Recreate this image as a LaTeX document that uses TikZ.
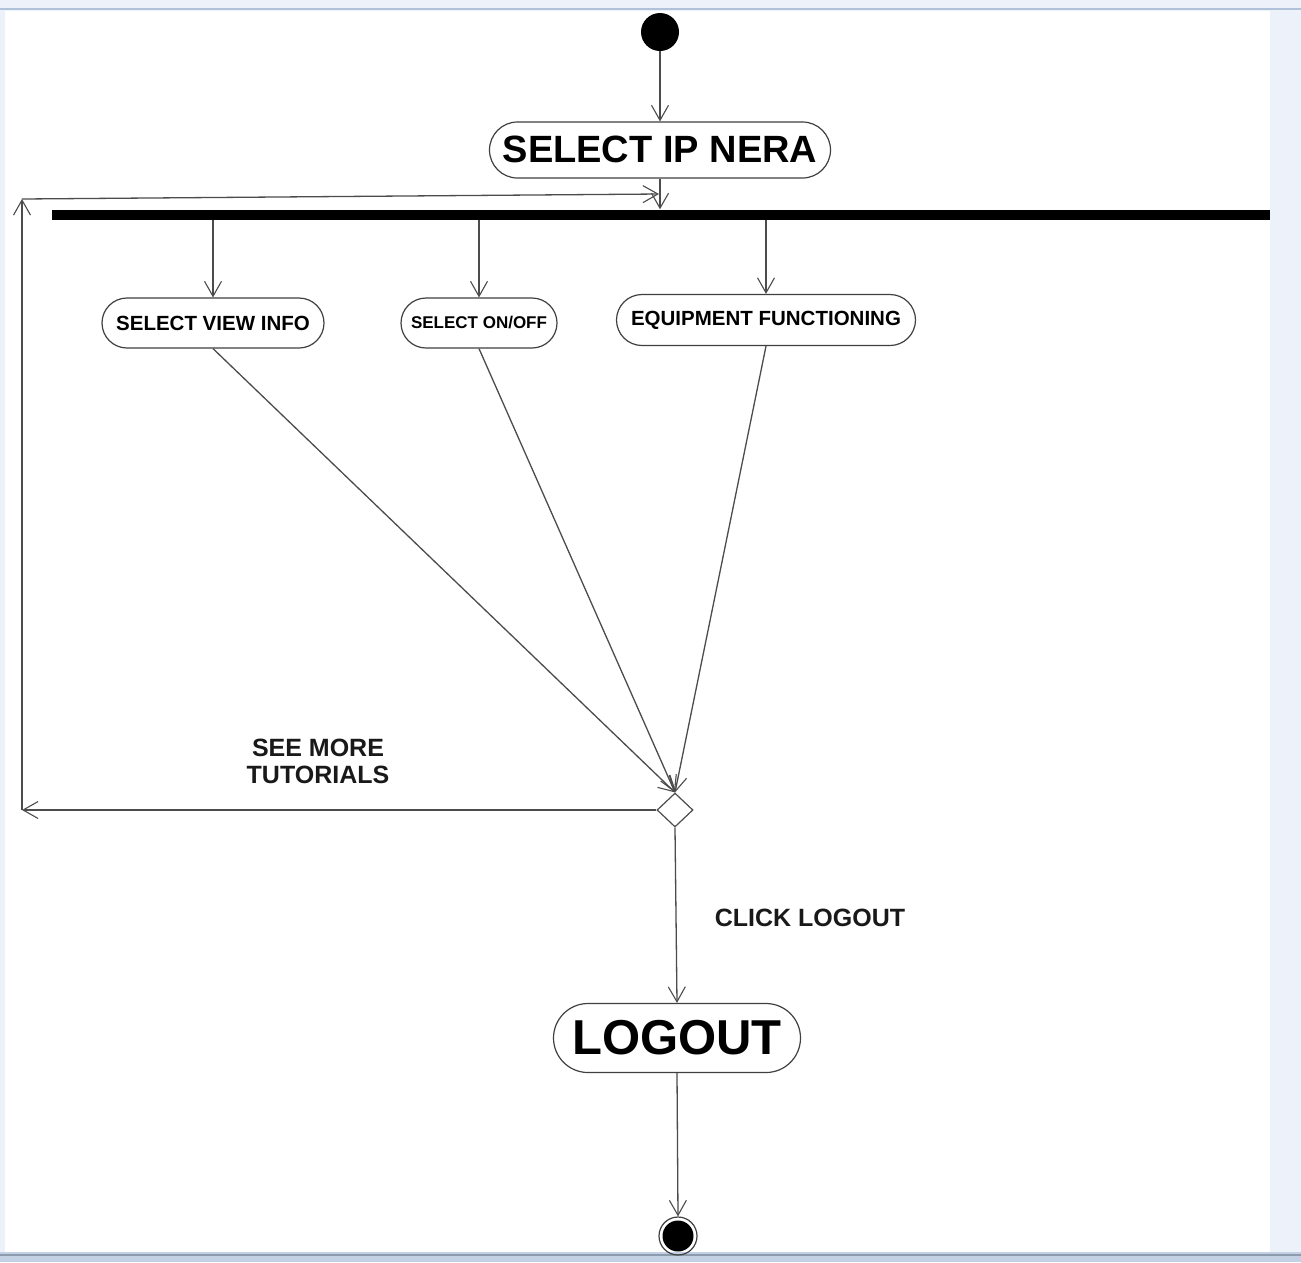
\documentclass[tikz,border=0pt]{standalone}
\usepackage{fontspec}
\setmainfont{Liberation Sans}
\usetikzlibrary{arrows.meta,shapes.geometric}
\definecolor{framebg}{RGB}{236,241,250}
\definecolor{frameline}{RGB}{176,194,218}
\definecolor{framebot}{RGB}{196,208,228}
\begin{document}
\begin{tikzpicture}[x=1pt,y=-1pt,
  line/.style={draw=black!70, line width=1.3pt},
  arr/.style={line, -{Straight Barb[length=15pt,width=17pt,line width=1.1pt]}},
  act/.style={draw=black!75, line width=1.2pt, fill=white, rounded corners=#1,
    inner sep=0pt},
  lbl/.style={font=\bfseries\fontsize{25}{27}\selectfont, text=black!90, align=center}
]
% window frame
\useasboundingbox (0,0) rectangle (1301,1262);
\fill[framebg] (0,0) rectangle (1301,1262);
\fill[white] (5,11) rectangle (1270,1252);
\draw[frameline, line width=2pt] (0,9) -- (1301,9);
\fill[framebot] (0,1252) rectangle (1301,1262);
\draw[frameline!80!black, line width=1.5pt] (0,1255) -- (1301,1255);

% initial node and first activity
\node[circle, fill=black, minimum width=38pt, minimum height=36pt, inner sep=0pt] (start) at (660,32) {};
\node[act=28pt, minimum width=341pt, minimum height=56pt,
  font=\bfseries\fontsize{38}{40}\selectfont] (ip) at (660,150) {\raisebox{2pt}{SELECT IP NERA}};

% fork bar
\node[fill=black, minimum width=1218pt, minimum height=10pt, inner sep=0pt] (bar) at (661,214.5) {};

% parallel activities
\node[act=25pt, minimum width=222pt, minimum height=50pt,
  font=\bfseries\fontsize{20.5}{22}\selectfont] (view) at (213,323) {SELECT VIEW INFO};
\node[act=25pt, minimum width=156pt, minimum height=50pt,
  font=\bfseries\fontsize{17}{19}\selectfont] (onoff) at (479,323) {SELECT ON/OFF};
\node[act=25.5pt, minimum width=299pt, minimum height=51pt,
  font=\bfseries\fontsize{20.5}{22}\selectfont] (equip) at (766,320) {EQUIPMENT FUNCTIONING};

% decision
\node[diamond, draw=black!70, line width=1.2pt, fill=white, minimum width=36pt,
  minimum height=34pt, inner sep=0pt] (dec) at (675,810) {};

% logout and final node
\node[act=34.5pt, minimum width=247pt, minimum height=69pt,
  font=\bfseries\fontsize{49}{52}\selectfont] (logout) at (677,1038) {\raisebox{2pt}{LOGOUT}};
\node[circle, draw=black!75, line width=1.2pt, minimum size=38pt, inner sep=0pt] (end) at (678,1236) {};
\fill[black] (end.center) circle (15.5pt);

% guard labels
\node[lbl] (see) at (318,761) {SEE MORE\\TUTORIALS};
\node[lbl] (click) at (810,918) {CLICK LOGOUT};

% loop-back corners
\coordinate (cl) at (22,810);
\coordinate (ct) at (22,199);
\coordinate (cj) at (659,194);

% connectors
\draw[arr] (start) -- (ip.north);
\draw[arr] (ip.south) -- (ip.south |- bar.north);
\draw[arr] (view.north |- bar.south) -- (view.north);
\draw[arr] (onoff.north |- bar.south) -- (onoff.north);
\draw[arr] (equip.north |- bar.south) -- (equip.north);
\draw[arr] (view.south) -- (dec.north);
\draw[arr] (onoff.south) -- (dec.north);
\draw[arr] (equip.south) -- (dec.north);
\draw[arr] (dec.west) -- (cl);
\draw[arr] (cl) -- (ct);
\draw[arr] (ct) -- (cj);
\draw[arr] (dec.south) -- (logout.north);
\draw[arr] (logout.south) -- (end.north);
\end{tikzpicture}
\end{document}
